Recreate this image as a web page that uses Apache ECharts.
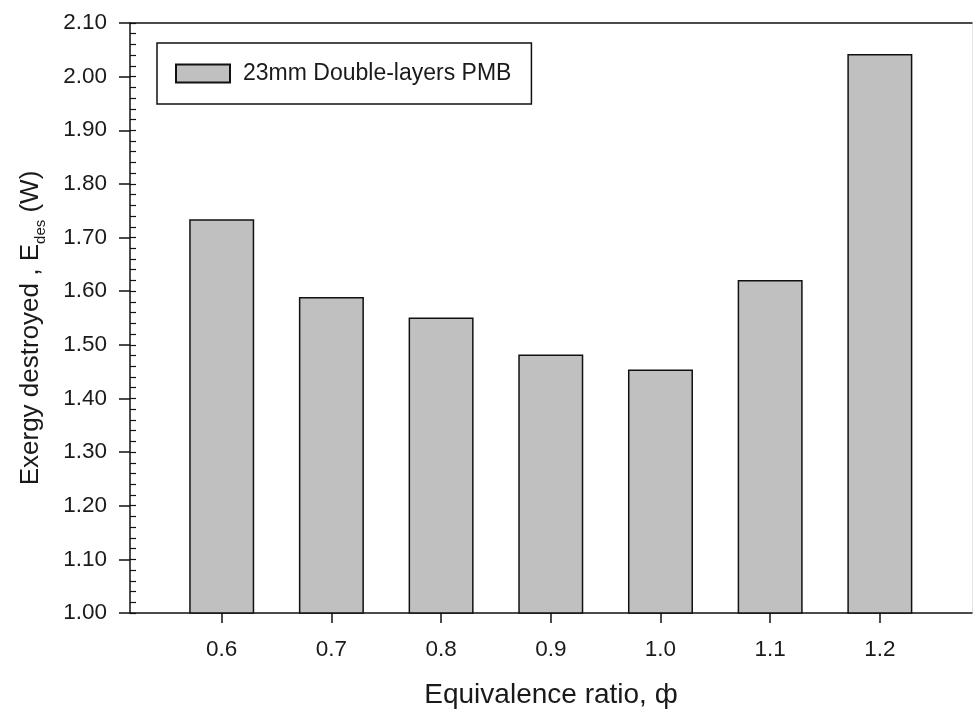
<!DOCTYPE html>
<html>
<head>
<meta charset="utf-8">
<script src="https://cdn.jsdelivr.net/npm/echarts@6/dist/echarts.min.js"></script>
<style>
html,body{margin:0;padding:0;background:#fff;}
#chart{width:973px;height:715px;}
</style>
</head>
<body>
<div id="chart"></div>
<script>
// Data
const phiValues = [0.6, 0.7, 0.8, 0.9, 1.0, 1.1, 1.2];
const tickLabels = ['0.6', '0.7', '0.8', '0.9', '1.0', '1.1', '1.2'];
const exergyDestroyed = [1.734, 1.589, 1.551, 1.482, 1.454, 1.621, 2.042];
const seriesName = '23mm Double-layers PMB';

const FONT = '"Liberation Sans", Arial, sans-serif';
const TXT = '#1a1a1a';

const chart = echarts.init(document.getElementById('chart'), null, {renderer: 'canvas'});
const xMin = 0.5164, xMax = 1.2840;

chart.setOption({
  backgroundColor: '#fff',
  animation: false,
  textStyle: {fontFamily: FONT, color: TXT},
  grid: {left: 130, right: 1, top: 23, bottom: 102, containLabel: false},
  legend: {
    left: 157, top: 43,
    padding: [19, 20, 19, 18],
    borderColor: '#111', borderWidth: 1.5,
    itemWidth: 54, itemHeight: 18,
    icon: 'rect',
    textStyle: {fontSize: 23, color: TXT, fontFamily: FONT, padding: [0, 0, 0, 8]},
    data: [seriesName]
  },
  xAxis: [
    {
      type: 'value', min: xMin, max: xMax,
      axisLine: {show: true, lineStyle: {color: '#111', width: 1.5}},
      axisTick: {show: true, customValues: phiValues, length: 10, lineStyle: {color: '#111', width: 1.5}},
      axisLabel: {show: true, customValues: phiValues, fontSize: 22.5, color: TXT, fontFamily: FONT, margin: 25,
        formatter: v => tickLabels[phiValues.findIndex(p => Math.abs(p - v) < 1e-6)] || ''},
      splitLine: {show: false},
      name: 'Equivalence ratio, ф', nameLocation: 'middle', nameGap: 68,
      nameTextStyle: {fontSize: 28, color: TXT, fontFamily: FONT}
    },
    {
      type: 'value', min: xMin, max: xMax, position: 'top',
      axisLine: {show: true, lineStyle: {color: '#111', width: 1.5}},
      axisTick: {show: false}, axisLabel: {show: false}, splitLine: {show: false}
    }
  ],
  yAxis: [
    {
      type: 'value', min: 1.0, max: 2.1, interval: 0.1, position: 'left',
      axisLine: {show: true, lineStyle: {color: '#111', width: 1.5}},
      axisTick: {show: true, inside: false, length: 11, lineStyle: {color: '#111', width: 1.5}},
      axisLabel: {fontSize: 22.5, color: TXT, fontFamily: FONT, margin: 23, formatter: v => v.toFixed(2)},
      splitLine: {show: false},
      name: '{a|Exergy destroyed , E}{b|des}{a| (W)}',
      nameLocation: 'middle', nameRotate: 90, nameGap: 86,
      nameTextStyle: {
        fontFamily: FONT, color: TXT,
        padding: [0, 20, 0, 0],
        rich: {
          a: {fontSize: 26, fontFamily: FONT, color: TXT},
          b: {fontSize: 15, fontFamily: FONT, color: TXT, verticalAlign: 'bottom', padding: [0, 0, -4, 0]}
        }
      }
    },
    {
      type: 'value', min: 1.0, max: 2.1, interval: 0.02, position: 'left',
      axisLine: {show: false},
      axisTick: {show: true, inside: true, length: 6, lineStyle: {color: '#111', width: 1.2}},
      axisLabel: {show: false}, splitLine: {show: false}
    },
    {
      type: 'value', min: 1.0, max: 2.1, position: 'right',
      axisLine: {show: true, lineStyle: {color: '#e4e4e4', width: 1}},
      axisTick: {show: false}, axisLabel: {show: false}, splitLine: {show: false}
    }
  ],
  series: [
    {
      name: seriesName,
      type: 'bar',
      xAxisIndex: 0, yAxisIndex: 0,
      barWidth: 65,
      itemStyle: {color: '#c0c0c0', borderColor: '#111', borderWidth: 1.5},
      data: phiValues.map((p, i) => [p, exergyDestroyed[i]])
    }
  ]
});
</script>
</body>
</html>
